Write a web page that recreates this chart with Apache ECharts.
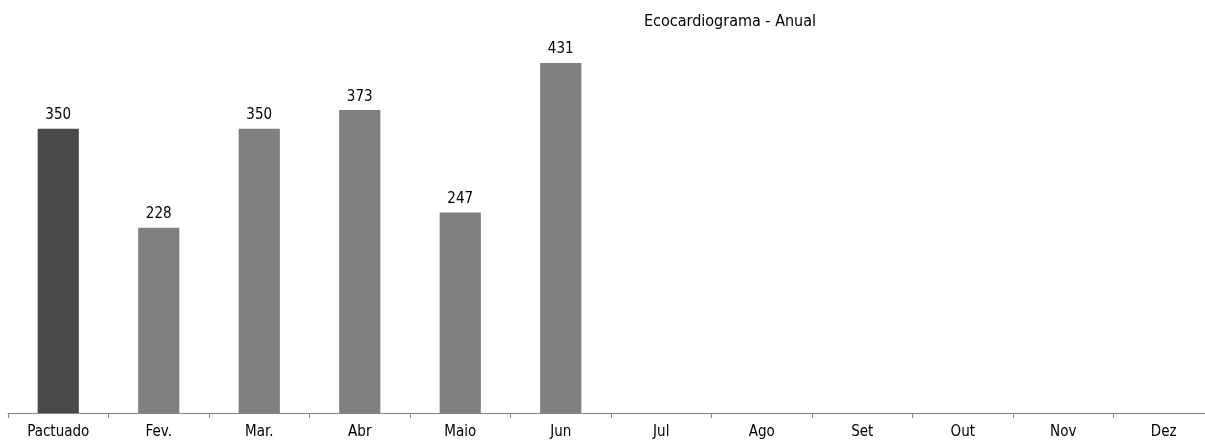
<!DOCTYPE html>
<html><head><meta charset="utf-8">
<script src="https://cdn.jsdelivr.net/npm/echarts@6/dist/echarts.min.js"></script>
<style>html,body{margin:0;padding:0;background:#fff}#c{width:1205px;height:443px}</style>
</head><body><div id="c"></div>
<script>
const title = 'Ecocardiograma - Anual';
const categories = ['Pactuado','Fev.','Mar.','Abr','Maio','Jun','Jul','Ago','Set','Out','Nov','Dez'];
const values = [350, 228, 350, 373, 247, 431, null, null, null, null, null, null];
const highlightCategory = 'Pactuado';
const FONT = '"DejaVu Sans Condensed", "DejaVu Sans", sans-serif';

const chart = echarts.init(document.getElementById('c'));
chart.setOption({
  animation: false,
  title: { text: title, left: 725, top: 9, textAlign: 'center',
    textStyle: { fontFamily: FONT, fontSize: 16, fontWeight: 'normal', color: '#000' } },
  grid: { left: 8, width: 1206, top: 7, bottom: 30, containLabel: false, outerBoundsMode: 'none' },
  xAxis: { type: 'category', data: categories,
    axisLine: { lineStyle: { color: '#868686', width: 1 } },
    axisTick: { show: true, length: 5, lineStyle: { color: '#868686' } },
    axisLabel: { interval: 0, margin: 12, color: '#000', fontFamily: FONT, fontSize: 15 } },
  yAxis: { type: 'value', min: 0, max: 500, show: false, splitLine: { show: false } },
  series: [{
    type: 'bar', barWidth: '41%',
    data: values.map((v, i) => ({ value: v,
      itemStyle: { color: categories[i] === highlightCategory ? '#4a4a4a' : '#808080' } })),
    label: { show: true, position: 'top', distance: 6, color: '#000', fontFamily: FONT, fontSize: 15 }
  }]
});
</script></body></html>
